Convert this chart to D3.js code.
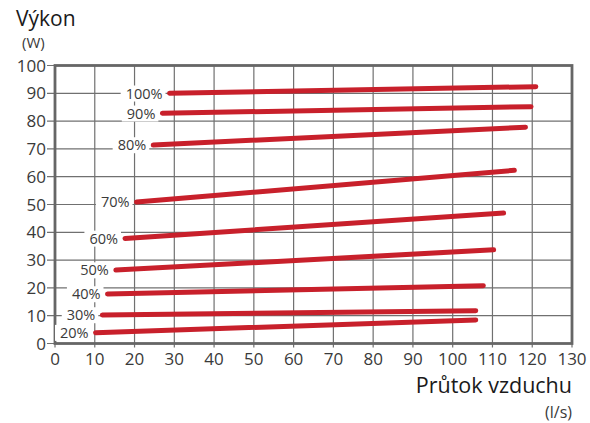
<!DOCTYPE html>
<html>
<head>
<meta charset="utf-8">
<script src="https://cdn.jsdelivr.net/npm/d3@7"></script>
<style>
  body { margin: 0; background: #fff; }
  text { font-family: "Open Sans", Roboto, sans-serif; }
</style>
</head>
<body>
<div class="chart"></div>
<script>
// fan levels and their lines (air flow l/s -> power W)
const levels = ["100%", "90%", "80%", "70%", "60%", "50%", "40%", "30%", "20%"];
const flowStart = [28.8, 27.0, 24.7, 20.5, 17.6, 15.3, 13.2, 11.9, 10.2];
const powerStart = [90.0, 82.8, 71.4, 50.9, 37.8, 26.4, 17.8, 10.25, 3.9];
const flowEnd = [120.9, 119.7, 118.3, 115.5, 112.8, 110.3, 107.7, 105.8, 105.8];
const powerEnd = [92.4, 85.2, 77.8, 62.3, 46.9, 33.7, 20.8, 11.8, 8.45];

const xTicks = [0, 10, 20, 30, 40, 50, 60, 70, 80, 90, 100, 110, 120, 130];
const yTicks = [0, 10, 20, 30, 40, 50, 60, 70, 80, 90, 100];

const width = 590;
const height = 423;
const margin = {top: 65.5, right: 18, bottom: 79.5, left: 55};

const svg = d3.select('.chart').append('svg')
    .attr('width', width)
    .attr('height', height)
    .attr('viewBox', [0, 0, width, height]);

const x = d3.scaleLinear()
    .domain([0, 130])
    .range([margin.left, width - margin.right]);

const y = d3.scaleLinear()
    .domain([0, 100])
    .range([height - margin.bottom, margin.top]);

// --- GRID --- //
svg.append('g')
    .selectAll('line')
    .data(xTicks)
    .join('line')
    .attr('x1', d => x(d)).attr('x2', d => x(d))
    .attr('y1', y(0) + 4).attr('y2', y(100))
    .attr('stroke', '#707070')
    .attr('stroke-width', 1.2);

svg.append('g')
    .selectAll('line')
    .data(yTicks)
    .join('line')
    .attr('x1', x(0) - 8).attr('x2', x(130))
    .attr('y1', d => y(d)).attr('y2', d => y(d))
    .attr('stroke', '#707070')
    .attr('stroke-width', 1.2);

// frame
svg.append('rect')
    .attr('x', x(0)).attr('y', y(100))
    .attr('width', x(130) - x(0))
    .attr('height', y(0) - y(100))
    .attr('fill', 'none')
    .attr('stroke', '#666')
    .attr('stroke-width', 2.8);

// tick labels
svg.append('g')
    .selectAll('text')
    .data(xTicks)
    .join('text')
    .attr('x', d => x(d))
    .attr('y', y(0) + 21.5)
    .attr('text-anchor', 'middle')
    .attr('font-size', 17)
    .attr('fill', '#3a3a3a')
    .text(d => d);

svg.append('g')
    .selectAll('text')
    .data(yTicks)
    .join('text')
    .attr('x', x(0) - 9)
    .attr('y', d => y(d))
    .attr('dy', '0.36em')
    .attr('text-anchor', 'end')
    .attr('font-size', 17)
    .attr('fill', '#3a3a3a')
    .text(d => d);

// --- LEVEL LABELS (white box hides grid) --- //
const labels = svg.append('g')
    .selectAll('g')
    .data(levels)
    .join('g');

labels.append('text')
    .attr('x', (d, i) => x(flowStart[i]) - 7)
    .attr('y', (d, i) => y(powerStart[i]))
    .attr('dy', '0.36em')
    .attr('text-anchor', 'end')
    .attr('font-size', 14.5)
    .attr('fill', '#3a3a3a')
    .text(d => d);

labels.each(function() {
    const g = d3.select(this);
    const b = g.select('text').node().getBBox();
    g.insert('rect', 'text')
        .attr('x', b.x - 5)
        .attr('y', b.y + 2)
        .attr('width', b.width + 8)
        .attr('height', b.height - 3)
        .attr('fill', '#fff');
});

// --- LINES --- //
const line = d3.line()
    .x(d => x(d[0]))
    .y(d => y(d[1]));

svg.append('g')
    .selectAll('path')
    .data(levels.map((d, i) => [[flowStart[i], powerStart[i]], [flowEnd[i], powerEnd[i]]]))
    .join('path')
    .attr('d', line)
    .attr('fill', 'none')
    .attr('stroke', '#c8202b')
    .attr('stroke-width', 5)
    .attr('stroke-linecap', 'round');

// --- AXIS TITLES --- //
svg.append('text')
    .attr('x', 16).attr('y', 26)
    .attr('font-size', 21)
    .attr('fill', '#1a1a1a')
    .text('Výkon');

svg.append('text')
    .attr('x', 22).attr('y', 47.5)
    .attr('font-size', 15)
    .attr('fill', '#3a3a3a')
    .text('(W)');

svg.append('text')
    .attr('x', x(130)).attr('y', 393)
    .attr('text-anchor', 'end')
    .attr('font-size', 21.5)
    .attr('fill', '#1a1a1a')
    .text('Průtok vzduchu');

svg.append('text')
    .attr('x', x(130)).attr('y', 418)
    .attr('text-anchor', 'end')
    .attr('font-size', 16)
    .attr('fill', '#3a3a3a')
    .text('(l/s)');
</script>
</body>
</html>
